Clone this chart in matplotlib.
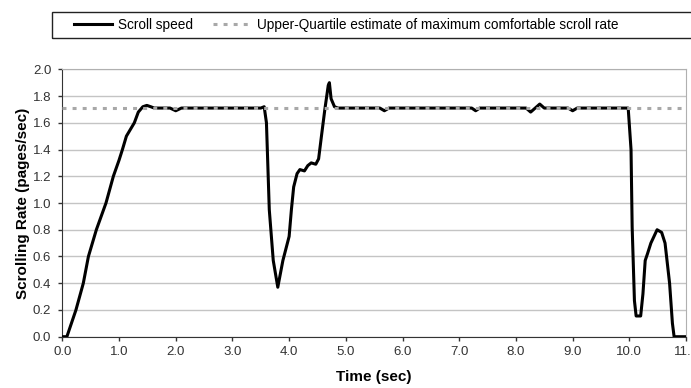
import matplotlib.pyplot as plt
from matplotlib.patches import Rectangle

plt.rcParams['font.family'] = ['Liberation Sans', 'DejaVu Sans']

# scroll speed trace (sec, pages/sec)
t = [0.0, 0.08, 0.16, 0.24, 0.37, 0.46, 0.60, 0.77, 0.90, 1.00, 1.06, 1.13,
     1.20, 1.27, 1.34, 1.42, 1.49, 1.56, 1.62, 1.90, 2.00, 2.10, 3.50, 3.56,
     3.60, 3.65, 3.72, 3.80, 3.89, 4.00, 4.04, 4.08, 4.14, 4.19, 4.27, 4.33,
     4.39, 4.47, 4.52, 4.57, 4.63, 4.69, 4.71, 4.74, 4.80, 4.86, 5.60, 5.68,
     5.76, 7.22, 7.29, 7.36, 8.18, 8.26, 8.34, 8.42, 8.50, 8.92, 9.00, 9.08,
     9.98, 10.03, 10.05, 10.09, 10.12, 10.20, 10.24, 10.28, 10.32, 10.38,
     10.49, 10.57, 10.63, 10.71, 10.76, 10.79, 11.0]
speed = [0.0, 0.0, 0.10, 0.20, 0.40, 0.60, 0.80, 1.00, 1.20, 1.32, 1.40, 1.50,
         1.55, 1.60, 1.68, 1.72, 1.73, 1.72, 1.71, 1.71, 1.69, 1.71, 1.71, 1.72,
         1.60, 0.95, 0.57, 0.37, 0.57, 0.75, 0.95, 1.12, 1.22, 1.25, 1.24, 1.28,
         1.30, 1.29, 1.33, 1.50, 1.70, 1.88, 1.90, 1.78, 1.72, 1.71, 1.71, 1.69,
         1.71, 1.71, 1.69, 1.71, 1.71, 1.68, 1.71, 1.74, 1.71, 1.71, 1.69, 1.71,
         1.71, 1.40, 0.82, 0.27, 0.155, 0.155, 0.32, 0.57, 0.62, 0.70, 0.80,
         0.78, 0.70, 0.40, 0.10, 0.0, 0.0]
upper_quartile = 1.71

xticks = [0, 1, 2, 3, 4, 5, 6, 7, 8, 9, 10, 11]
yticks = [0.0, 0.2, 0.4, 0.6, 0.8, 1.0, 1.2, 1.4, 1.6, 1.8, 2.0]

fig = plt.figure(figsize=(6.91, 3.88), dpi=100)
ax = fig.add_axes([0.0902, 0.1322, 0.9026, 0.6892])

ax.plot(t, speed, color='black', lw=2.2, solid_joinstyle='round',
        label='Scroll speed', zorder=3)
ax.axhline(upper_quartile, color='#a8a8a8', lw=2.2, ls=(0, (1.3, 2.0)),
           label='Upper-Quartile estimate of maximum comfortable scroll rate',
           zorder=4)

ax.set_xlim(0, 11)
ax.set_ylim(0, 2.0)
ax.set_xticks(xticks)
ax.set_xticklabels([f'{x:.1f}' for x in xticks])
ax.set_yticks(yticks)
ax.set_yticklabels([f'{y:.1f}' for y in yticks])
ax.grid(axis='y', color='#c4c4c4', lw=1)
ax.set_axisbelow(True)
ax.tick_params(labelsize=9.5, colors='#333333', length=3, width=1)
ax.tick_params(axis='x', pad=4)
ax.tick_params(axis='y', pad=5)

for s in ['top', 'right']:
    ax.spines[s].set_color('#b0b0b0')
for s in ['left', 'bottom']:
    ax.spines[s].set_color('#333333')

ax.set_xlabel('Time (sec)', fontsize=11, fontweight='bold', labelpad=8)
ax.set_ylabel('Scrolling Rate (pages/sec)', fontsize=11, fontweight='bold',
              labelpad=2)

fig.patches.append(Rectangle((52 / 691, 1 - 38 / 388), 700 / 691, 26 / 388,
                             transform=fig.transFigure, fill=False,
                             edgecolor='#222222', lw=1))
fig.legend(loc='center left', bbox_to_anchor=(74 / 691, 1 - 25 / 388),
           ncol=2, frameon=False, fontsize=9.8, handlelength=2.8,
           columnspacing=1.45, handletextpad=0.45, borderpad=0,
           borderaxespad=0)

fig.savefig('out.png', dpi=100)
